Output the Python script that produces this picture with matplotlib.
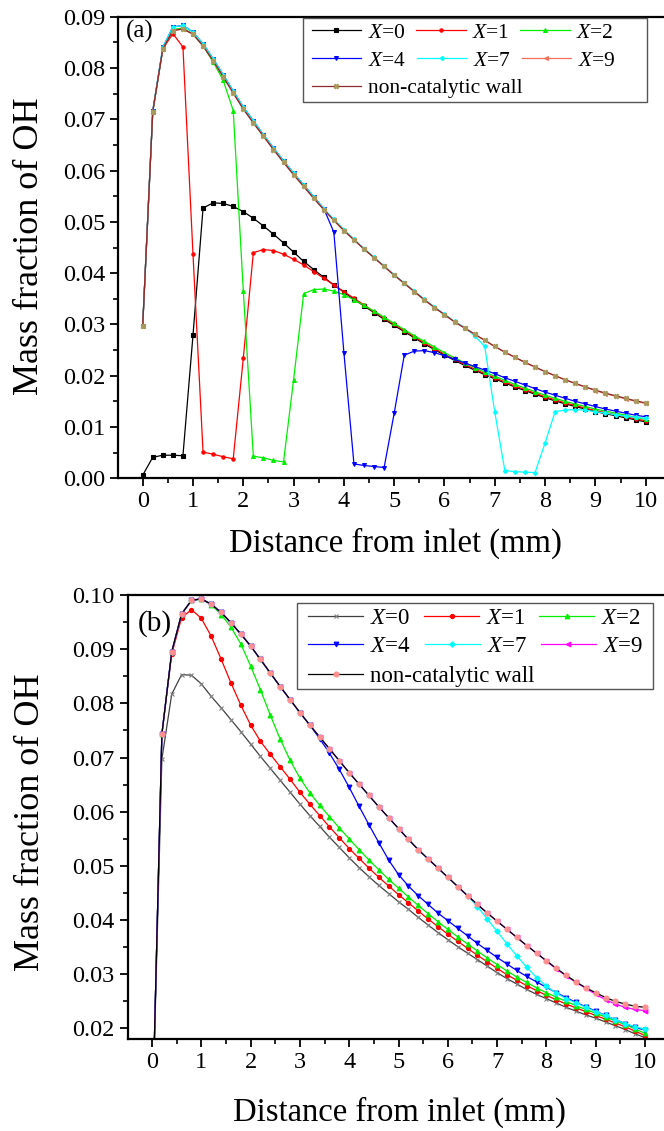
import matplotlib
matplotlib.use("Agg")
import matplotlib.pyplot as plt
from matplotlib.legend import Legend
from matplotlib.patches import Rectangle
from matplotlib.ticker import MultipleLocator, FormatStrFormatter

plt.rcParams['font.family'] = 'Liberation Serif'
plt.rcParams['mathtext.fontset'] = 'custom'
plt.rcParams['mathtext.rm'] = 'Liberation Serif'
plt.rcParams['mathtext.it'] = 'Liberation Serif:italic'

# sampling positions along the channel (mm)
distance = [0.0, 0.2, 0.4, 0.6, 0.8, 1.0, 1.2, 1.4, 1.6, 1.8,
            2.0, 2.2, 2.4, 2.6, 2.8, 3.0, 3.2, 3.4, 3.6, 3.8,
            4.0, 4.2, 4.4, 4.6, 4.8, 5.0, 5.2, 5.4, 5.6, 5.8,
            6.0, 6.2, 6.4, 6.6, 6.8, 7.0, 7.2, 7.4, 7.6, 7.8,
            8.0, 8.2, 8.4, 8.6, 8.8, 9.0, 9.2, 9.4, 9.6, 9.8, 10.0]

# ---- panel (a) ----
a_x0 = [0.0006, 0.0041, 0.0045, 0.0045, 0.0044, 0.0279, 0.0527, 0.0537, 0.0536, 0.0530,
        0.0520, 0.0507, 0.0492, 0.0476, 0.0459, 0.0441, 0.0423, 0.0407, 0.0392, 0.0377,
        0.0363, 0.0349, 0.0336, 0.0323, 0.0310, 0.0298, 0.0286, 0.0274, 0.0262, 0.0251,
        0.0240, 0.0230, 0.0220, 0.0211, 0.0202, 0.0194, 0.0186, 0.0178, 0.0171, 0.0164,
        0.0157, 0.0151, 0.0145, 0.0140, 0.0135, 0.0130, 0.0126, 0.0122, 0.0118, 0.0114, 0.0110]
a_x1 = [0.0297, 0.0715, 0.0837, 0.0867, 0.0841, 0.0437, 0.0051, 0.0047, 0.0042, 0.0038,
        0.0234, 0.0440, 0.0446, 0.0444, 0.0437, 0.0427, 0.0416, 0.0403, 0.0390, 0.0377,
        0.0364, 0.0351, 0.0338, 0.0325, 0.0312, 0.0300, 0.0288, 0.0276, 0.0264, 0.0253,
        0.0242, 0.0232, 0.0222, 0.0213, 0.0204, 0.0196, 0.0188, 0.0180, 0.0173, 0.0166,
        0.0159, 0.0153, 0.0147, 0.0142, 0.0137, 0.0132, 0.0128, 0.0124, 0.0120, 0.0116, 0.0112]
a_x2 = [0.0297, 0.0715, 0.0838, 0.0875, 0.0878, 0.0866, 0.0843, 0.0812, 0.0776, 0.0717,
        0.0366, 0.0043, 0.0040, 0.0035, 0.0032, 0.0192, 0.0360, 0.0368, 0.0369, 0.0365,
        0.0358, 0.0348, 0.0337, 0.0326, 0.0314, 0.0302, 0.0290, 0.0278, 0.0267, 0.0256,
        0.0245, 0.0235, 0.0225, 0.0216, 0.0207, 0.0199, 0.0191, 0.0183, 0.0176, 0.0169,
        0.0162, 0.0156, 0.0150, 0.0145, 0.0140, 0.0135, 0.0131, 0.0127, 0.0123, 0.0119, 0.0115]
a_x4 = [0.0297, 0.0716, 0.0840, 0.0880, 0.0883, 0.0870, 0.0847, 0.0818, 0.0787, 0.0755,
        0.0724, 0.0697, 0.0670, 0.0644, 0.0619, 0.0595, 0.0572, 0.0549, 0.0526, 0.0480,
        0.0245, 0.0028, 0.0025, 0.0023, 0.0021, 0.0127, 0.0240, 0.0248, 0.0249, 0.0245,
        0.0239, 0.0232, 0.0225, 0.0218, 0.0211, 0.0204, 0.0196, 0.0189, 0.0182, 0.0175,
        0.0168, 0.0162, 0.0156, 0.0150, 0.0145, 0.0140, 0.0135, 0.0131, 0.0127, 0.0123, 0.0120]
a_x7 = [0.0297, 0.0716, 0.0840, 0.0880, 0.0883, 0.0870, 0.0847, 0.0818, 0.0787, 0.0755,
        0.0724, 0.0697, 0.0670, 0.0644, 0.0619, 0.0595, 0.0572, 0.0549, 0.0526, 0.0505,
        0.0485, 0.0466, 0.0448, 0.0431, 0.0414, 0.0397, 0.0381, 0.0365, 0.0349, 0.0334,
        0.0320, 0.0306, 0.0294, 0.0278, 0.0257, 0.0129, 0.0015, 0.0013, 0.0012, 0.0011,
        0.0069, 0.0130, 0.0133, 0.0134, 0.0133, 0.0130, 0.0127, 0.0124, 0.0121, 0.0119, 0.0117]
a_x9 = [0.0297, 0.0715, 0.0837, 0.0873, 0.0876, 0.0866, 0.0843, 0.0814, 0.0783, 0.0751,
        0.0720, 0.0693, 0.0667, 0.0641, 0.0616, 0.0592, 0.0569, 0.0546, 0.0524, 0.0503,
        0.0483, 0.0465, 0.0447, 0.0430, 0.0413, 0.0396, 0.0380, 0.0364, 0.0348, 0.0333,
        0.0319, 0.0305, 0.0293, 0.0281, 0.0269, 0.0257, 0.0246, 0.0236, 0.0226, 0.0217,
        0.0208, 0.0200, 0.0192, 0.0185, 0.0178, 0.0171, 0.0165, 0.0160, 0.0155, 0.0150, 0.0146]
a_noncat = [0.0297, 0.0715, 0.0837, 0.0873, 0.0876, 0.0866, 0.0843, 0.0814, 0.0783, 0.0751,
            0.0720, 0.0693, 0.0667, 0.0641, 0.0616, 0.0592, 0.0569, 0.0546, 0.0524, 0.0503,
            0.0483, 0.0465, 0.0447, 0.0430, 0.0413, 0.0396, 0.0380, 0.0364, 0.0348, 0.0333,
            0.0319, 0.0305, 0.0293, 0.0281, 0.0269, 0.0257, 0.0246, 0.0236, 0.0226, 0.0217,
            0.0208, 0.0200, 0.0192, 0.0185, 0.0178, 0.0172, 0.0166, 0.0161, 0.0156, 0.0151, 0.0147]

# ---- panel (b) ----
b_x0 = [0.0, 0.0697, 0.0817, 0.0853, 0.0852, 0.0836, 0.0813, 0.0792, 0.0770, 0.0748,
        0.0725, 0.0702, 0.0680, 0.0658, 0.0636, 0.0614, 0.0593, 0.0573, 0.0553, 0.0534,
        0.0515, 0.0497, 0.0480, 0.0464, 0.0449, 0.0434, 0.0420, 0.0405, 0.0391, 0.0377,
        0.0364, 0.0351, 0.0339, 0.0327, 0.0315, 0.0303, 0.0292, 0.0282, 0.0272, 0.0263,
        0.0255, 0.0247, 0.0239, 0.0232, 0.0225, 0.0219, 0.0212, 0.0205, 0.0198, 0.0190, 0.0183]
b_x1 = [0.0, 0.0743, 0.0891, 0.0958, 0.0973, 0.0957, 0.0924, 0.0882, 0.0838, 0.0797,
        0.0760, 0.0730, 0.0706, 0.0683, 0.0660, 0.0636, 0.0614, 0.0593, 0.0572, 0.0552,
        0.0532, 0.0514, 0.0496, 0.0479, 0.0463, 0.0447, 0.0432, 0.0417, 0.0402, 0.0388,
        0.0374, 0.0361, 0.0348, 0.0335, 0.0323, 0.0311, 0.0299, 0.0289, 0.0279, 0.0270,
        0.0261, 0.0253, 0.0245, 0.0238, 0.0231, 0.0224, 0.0217, 0.0210, 0.0203, 0.0195, 0.0187]
b_x2 = [0.0, 0.0743, 0.0895, 0.0965, 0.0990, 0.0992, 0.0982, 0.0964, 0.0941, 0.0910,
        0.0869, 0.0825, 0.0778, 0.0734, 0.0695, 0.0662, 0.0635, 0.0612, 0.0591, 0.0570,
        0.0550, 0.0530, 0.0511, 0.0493, 0.0475, 0.0459, 0.0443, 0.0427, 0.0412, 0.0397,
        0.0383, 0.0369, 0.0356, 0.0343, 0.0330, 0.0318, 0.0306, 0.0295, 0.0285, 0.0275,
        0.0266, 0.0258, 0.0250, 0.0242, 0.0235, 0.0228, 0.0221, 0.0214, 0.0207, 0.0199, 0.0191]
b_x4 = [0.0, 0.0743, 0.0895, 0.0965, 0.0990, 0.0993, 0.0983, 0.0968, 0.0949, 0.0928,
        0.0906, 0.0881, 0.0856, 0.0831, 0.0807, 0.0783, 0.0760, 0.0735, 0.0708, 0.0678,
        0.0645, 0.0610, 0.0576, 0.0543, 0.0511, 0.0484, 0.0463, 0.0445, 0.0429, 0.0413,
        0.0399, 0.0385, 0.0371, 0.0357, 0.0344, 0.0331, 0.0319, 0.0307, 0.0296, 0.0286,
        0.0276, 0.0266, 0.0257, 0.0248, 0.0240, 0.0232, 0.0224, 0.0216, 0.0209, 0.0202, 0.0197]
b_x7 = [0.0, 0.0743, 0.0895, 0.0965, 0.0990, 0.0993, 0.0983, 0.0968, 0.0949, 0.0928,
        0.0906, 0.0881, 0.0856, 0.0831, 0.0807, 0.0783, 0.0760, 0.0738, 0.0716, 0.0694,
        0.0672, 0.0651, 0.0630, 0.0609, 0.0589, 0.0569, 0.0549, 0.0530, 0.0513, 0.0496,
        0.0479, 0.0462, 0.0445, 0.0425, 0.0402, 0.0379, 0.0356, 0.0334, 0.0313, 0.0294,
        0.0278, 0.0265, 0.0255, 0.0247, 0.0239, 0.0231, 0.0224, 0.0216, 0.0209, 0.0203, 0.0199]
b_x9 = [0.0, 0.0743, 0.0895, 0.0965, 0.0990, 0.0993, 0.0983, 0.0968, 0.0949, 0.0928,
        0.0906, 0.0881, 0.0856, 0.0831, 0.0807, 0.0783, 0.0760, 0.0738, 0.0716, 0.0694,
        0.0672, 0.0651, 0.0630, 0.0609, 0.0589, 0.0569, 0.0549, 0.0530, 0.0513, 0.0496,
        0.0479, 0.0462, 0.0445, 0.0429, 0.0413, 0.0398, 0.0383, 0.0368, 0.0353, 0.0339,
        0.0324, 0.0310, 0.0297, 0.0285, 0.0274, 0.0263, 0.0253, 0.0245, 0.0239, 0.0235, 0.0233]
b_noncat = [0.0, 0.0743, 0.0895, 0.0965, 0.0990, 0.0993, 0.0983, 0.0968, 0.0949, 0.0928,
            0.0906, 0.0881, 0.0856, 0.0831, 0.0807, 0.0783, 0.0760, 0.0738, 0.0716, 0.0694,
            0.0672, 0.0651, 0.0630, 0.0609, 0.0589, 0.0569, 0.0549, 0.0530, 0.0513, 0.0496,
            0.0479, 0.0462, 0.0445, 0.0429, 0.0413, 0.0398, 0.0383, 0.0368, 0.0353, 0.0339,
            0.0325, 0.0311, 0.0298, 0.0286, 0.0275, 0.0266, 0.0257, 0.0250, 0.0245, 0.0241, 0.0239]

labels = ['$X$=0', '$X$=1', '$X$=2', '$X$=4', '$X$=7', '$X$=9', 'non-catalytic wall']

# (data, line colour, marker, marker colour, marker size)
series_a = [
    (a_x0, 'black', 's', 'black', 2.3),
    (a_x1, '#ff0000', 'o', '#ff0000', 2.4),
    (a_x2, '#00ee00', '^', '#00ee00', 2.8),
    (a_x4, '#0000ff', 'v', '#0000ff', 2.8),
    (a_x7, '#00ffff', 'D', '#00ffff', 2.2),
    (a_x9, '#f4705a', '<', '#f4705a', 2.8),
    (a_noncat, '#8b2a2a', 'X', '#a89a5c', 3.3),
]
series_b = [
    (b_x0, '#404040', 'x', '#808080', 3.2),
    (b_x1, '#ff0000', 'o', '#ff0000', 3.0),
    (b_x2, '#00ee00', '^', '#00ee00', 3.4),
    (b_x4, '#0000ff', 'v', '#0000ff', 3.4),
    (b_x7, '#00ffff', 'D', '#00ffff', 2.8),
    (b_x9, '#ff00ff', '<', '#ff00ff', 3.4),
    (b_noncat, 'black', 'o', '#ff9090', 3.6),
]

fig = plt.figure(figsize=(6.64, 11.31), dpi=100)
ax_a = fig.add_axes([0.17816, 0.57710, 0.82184, 0.40813])
ax_b = fig.add_axes([0.19232, 0.08108, 0.80768, 0.39284])


def draw_series(ax, series):
    handles = []
    for (vals, lc, mk, mc, ms), lab in zip(series, labels):
        h, = ax.plot(distance, vals, color=lc, lw=0.9, marker=mk, ms=ms,
                     mfc=mc, mec=mc, mew=0.8, label=lab)
        handles.append(h)
    return handles


def style_axes(ax, xlim, ylim, ystep):
    ax.set_xlim(*xlim)
    ax.set_ylim(*ylim)
    ax.xaxis.set_major_locator(MultipleLocator(1))
    ax.xaxis.set_minor_locator(MultipleLocator(0.5))
    ax.yaxis.set_major_locator(MultipleLocator(ystep))
    ax.yaxis.set_minor_locator(MultipleLocator(ystep / 2))
    ax.yaxis.set_major_formatter(FormatStrFormatter('%.2f'))
    ax.spines['right'].set_visible(False)
    for s in ['left', 'bottom', 'top']:
        ax.spines[s].set_linewidth(1.6)
    ax.tick_params(which='major', direction='out', length=6, width=1.3, labelsize=17.5)
    ax.tick_params(which='minor', direction='out', length=3.5, width=1.2)
    ax.tick_params(axis='x', which='both', pad=3.5, top=False)
    ax.tick_params(axis='y', which='both', pad=3.5, right=False)
    ax.set_xlabel('Distance from inlet (mm)', fontsize=23.5, va='center')
    ax.set_ylabel('Mass fraction of OH', fontsize=26, va='center')


def legend_rows(ax, handles, box, rows, x0, fs, hl, cs):
    frame = Rectangle(box[:2], box[2], box[3], transform=ax.transAxes, fc='white',
                      ec='#555555', lw=1.0, zorder=4, clip_on=False)
    ax.add_patch(frame)
    groups = [[0, 1, 2], [3, 4, 5], [6]]
    for idx, y in zip(groups, rows):
        leg = Legend(ax, [handles[i] for i in idx], [labels[i] for i in idx],
                     loc='center left', bbox_to_anchor=(x0, y), ncol=len(idx),
                     frameon=False, fontsize=fs, handlelength=hl, handletextpad=0.3,
                     columnspacing=cs, borderpad=0, borderaxespad=0)
        leg.set_zorder(5)
        ax.add_artist(leg)


h_a = draw_series(ax_a, series_a)
style_axes(ax_a, (-0.485, 10.364), (0.0, 0.09), 0.01)
ax_a.xaxis.set_label_coords(0.507, -0.142)
ax_a.yaxis.set_label_coords(-0.162, 0.503)
ax_a.text(0.014, 0.967, '(a)', transform=ax_a.transAxes, fontsize=18, va='center', ha='left')
legend_rows(ax_a, h_a, (0.339, 0.8159, 0.629, 0.1806), [0.9647, 0.9051, 0.8455],
            0.3544, 15.5, 2.3, 0.5)

h_b = draw_series(ax_b, series_b)
style_axes(ax_b, (-0.493, 10.385), (0.018, 0.10), 0.01)
ax_b.xaxis.set_label_coords(0.507, -0.164)
ax_b.yaxis.set_label_coords(-0.182, 0.489)
ax_b.text(0.019, 0.935, '(b)', transform=ax_b.transAxes, fontsize=21, va='center', ha='left')
legend_rows(ax_b, h_b, (0.3162, 0.7878, 0.6627, 0.1949), [0.9476, 0.8852, 0.8161],
            0.3368, 16.5, 2.4, 0.6)

fig.savefig('out.png', dpi=100)
